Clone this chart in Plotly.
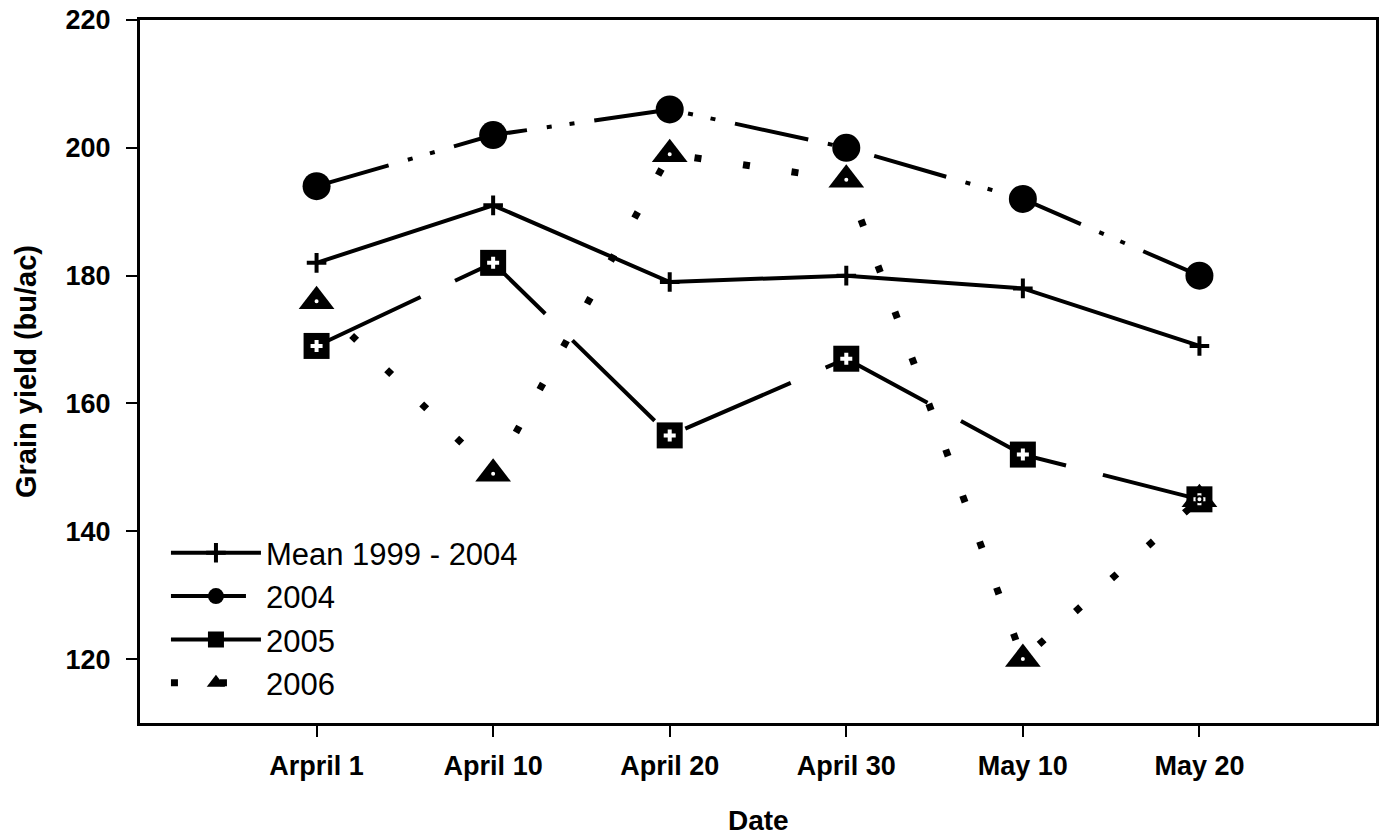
import plotly.graph_objects as go

dates = ["Arpril 1", "April 10", "April 20", "April 30", "May 10", "May 20"]
x_pos = [1, 2, 3, 4, 5, 6]
mean_1999_2004 = [182, 191, 179, 180, 178, 169]
y2004 = [194, 202, 206, 200, 192, 180]
y2005 = [169, 182, 155, 167, 152, 145]
y2006 = [176, 149, 199, 195, 120, 145]

FONT = "Arial, Liberation Sans, Helvetica, sans-serif"

fig = go.Figure()

fig.add_trace(go.Scatter(
    x=x_pos, y=mean_1999_2004, name="Mean 1999 - 2004", mode="lines+markers",
    line=dict(color="black", width=4),
    marker=dict(symbol="cross-thin", size=14, color="black", line=dict(color="black", width=4)),
))
fig.add_trace(go.Scatter(
    x=x_pos, y=y2004, name="2004", mode="lines+markers",
    line=dict(color="black", width=4, dash="75px,20px,5px,18px,5px,20px"),
    marker=dict(symbol="circle", size=28, color="black"),
))
fig.add_trace(go.Scatter(
    x=x_pos, y=y2005, name="2005", mode="lines+markers",
    line=dict(color="black", width=4, dash="115px,38px"),
    marker=dict(symbol="square", size=26, color="black"),
))
fig.add_trace(go.Scatter(
    x=x_pos, y=y2006, name="2006", mode="lines+markers",
    line=dict(color="black", width=7, dash="7px,42px"),
    marker=dict(symbol="triangle-up", size=31, color="black"),
))
# white inner details
fig.add_trace(go.Scatter(
    x=x_pos, y=y2005, mode="markers", showlegend=False, hoverinfo="skip",
    marker=dict(symbol="cross", size=10, color="white"),
))
fig.add_trace(go.Scatter(
    x=x_pos, y=y2006, mode="markers", showlegend=False, hoverinfo="skip",
    marker=dict(symbol="circle", size=6, color="white", line=dict(color="black", width=2)),
))

axis_common = dict(
    showgrid=False, zeroline=False, showline=True, linecolor="black", linewidth=3,
    mirror=True, ticks="outside", ticklen=11, tickwidth=2, tickcolor="black",
    tickfont=dict(size=27, family=FONT, weight="bold"), automargin=False,
)

W, H = 1380, 837
L, R, T, B = 140, 4, 20, 114
pw, ph = W - L - R, H - T - B

fig.update_layout(
    width=W, height=H,
    margin=dict(l=L, r=R, t=T, b=B),
    plot_bgcolor="white", paper_bgcolor="white",
    font=dict(family=FONT, color="black"),
    showlegend=True,
    legend=dict(x=0.021, y=0.28, xanchor="left", yanchor="top",
                font=dict(size=31, family=FONT),
                bgcolor="rgba(0,0,0,0)", tracegroupgap=0, itemwidth=90),
    xaxis=dict(range=[0, 7], tickmode="array", tickvals=x_pos, ticktext=dates,
               ticklabelstandoff=6, **axis_common),
    yaxis=dict(range=[110, 220], tickvals=[120, 140, 160, 180, 200, 220],
               ticklabelstandoff=10, **axis_common),
)
fig.add_annotation(text="<b>Date</b>", x=(758 - L) / pw, y=-(820 - (H - B)) / ph,
                   xref="paper", yref="paper", showarrow=False,
                   xanchor="center", yanchor="middle", font=dict(size=28, family=FONT))
fig.add_annotation(text="<b>Grain yield (bu/ac)</b>", x=-(L - 26) / pw, y=((H - B) - 372) / ph,
                   xref="paper", yref="paper", showarrow=False, textangle=-90,
                   xanchor="center", yanchor="middle", font=dict(size=29, family=FONT))

fig.write_html("out.html", config={"displayModeBar": False},
               post_script="document.body.style.margin='0';document.body.style.overflow='hidden';")
